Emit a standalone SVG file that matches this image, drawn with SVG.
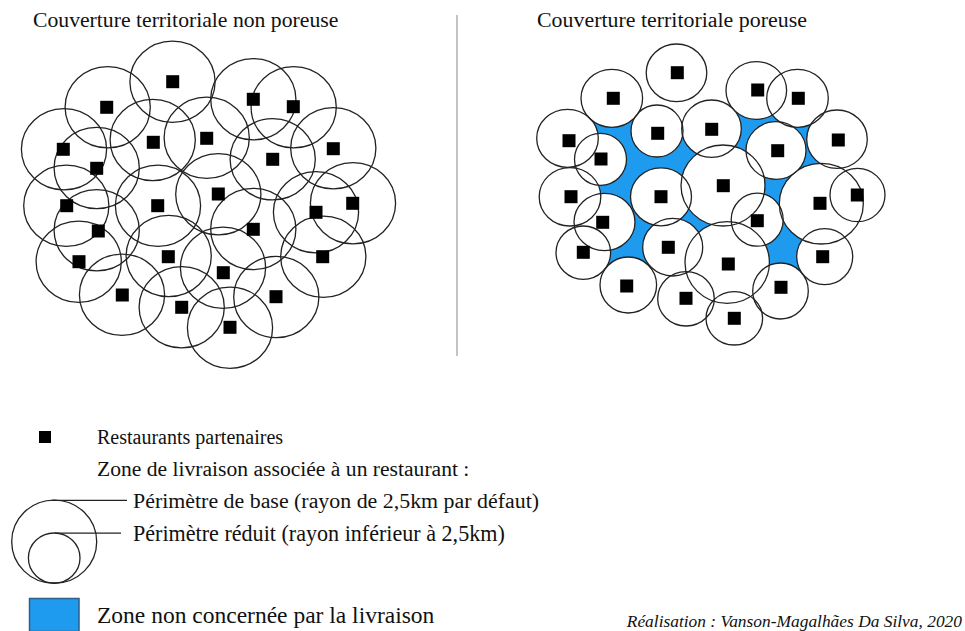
<svg xmlns="http://www.w3.org/2000/svg" width="965" height="631" viewBox="0 0 965 631">
<style>
.t{font-family:"Liberation Serif","Times New Roman",serif;fill:#111}
.z{fill:none;stroke:#222;stroke-width:1.3}
.w{fill:#fff;stroke:none}
.r{fill:#000}
</style>
<defs>
<ellipse id="L" rx="42.6" ry="40.6" class="z"/>
<rect id="s" x="-6.5" y="-6.5" width="13" height="13"/>
</defs>
<rect width="965" height="631" fill="#fff"/>
<text class="t" x="33" y="27" font-size="21.7">Couverture territoriale non poreuse</text>
<text class="t" x="537" y="27" font-size="21.9">Couverture territoriale poreuse</text>
<line x1="457" y1="15" x2="457" y2="356" stroke="#888" stroke-width="1"/>
<g id="left-circles">
<use href="#L" x="172.5" y="81.7"/><use href="#L" x="107.7" y="107.3"/><use href="#L" x="253.3" y="99.3"/><use href="#L" x="293.7" y="107.3"/><use href="#L" x="64" y="149.3"/><use href="#L" x="152.7" y="140"/><use href="#L" x="206.7" y="137.7"/><use href="#L" x="272.7" y="159.3"/><use href="#L" x="333.3" y="148.3"/><use href="#L" x="96.7" y="168"/><use href="#L" x="66.3" y="205.7"/><use href="#L" x="158" y="205.7"/><use href="#L" x="218.3" y="194.3"/><use href="#L" x="316" y="212.3"/><use href="#L" x="353" y="203.3"/><use href="#L" x="96.7" y="230.3"/><use href="#L" x="253.3" y="229"/><use href="#L" x="78.7" y="261.7"/><use href="#L" x="168.7" y="256"/><use href="#L" x="223" y="267.7"/><use href="#L" x="323.3" y="256.7"/><use href="#L" x="122" y="294.7"/><use href="#L" x="181.7" y="307.3"/><use href="#L" x="276.3" y="297"/><use href="#L" x="230" y="327.7"/>
</g>
<g id="left-restaurants" class="r">
<use href="#s" x="172.7" y="81.7"/><use href="#s" x="106.7" y="107.3"/><use href="#s" x="253.3" y="99.3"/><use href="#s" x="293.3" y="106.7"/><use href="#s" x="63.3" y="149.3"/><use href="#s" x="153.3" y="142.3"/><use href="#s" x="206.7" y="138.3"/><use href="#s" x="272.7" y="159.3"/><use href="#s" x="333.3" y="148.7"/><use href="#s" x="96.7" y="168.3"/><use href="#s" x="66.7" y="205.7"/><use href="#s" x="157.7" y="205.7"/><use href="#s" x="218.3" y="194"/><use href="#s" x="316" y="212.3"/><use href="#s" x="352.7" y="203.3"/><use href="#s" x="98.3" y="231"/><use href="#s" x="253.3" y="229.3"/><use href="#s" x="79" y="261.7"/><use href="#s" x="168.3" y="256.7"/><use href="#s" x="223.3" y="272.7"/><use href="#s" x="322.7" y="256.7"/><use href="#s" x="122.3" y="295"/><use href="#s" x="181.7" y="307.3"/><use href="#s" x="276" y="296.7"/><use href="#s" x="230" y="327.3"/>
</g>
<g id="right-gaps">
<polygon fill="#1e9bef" points="567.5,138.3 611.8,98.3 657,131 711.5,128.7 756.3,90.5 797.5,98.3 837,139.2 821.3,203.7 824.7,256.7 780.5,291 727.2,262.5 686,298.8 672.7,247.2 628.3,285 583.3,252.7 570,196.8"/>
</g>
<g id="right-circles">
<g class="w">
<ellipse cx="676.5" cy="72.8" rx="30.3" ry="28.8"/><ellipse cx="611.8" cy="98.3" rx="30.8" ry="29"/><ellipse cx="756.3" cy="90.5" rx="30.3" ry="28.8"/><ellipse cx="797.5" cy="98.3" rx="30.8" ry="29"/><ellipse cx="567.5" cy="138.3" rx="30.8" ry="29"/><ellipse cx="657" cy="131" rx="26" ry="26"/><ellipse cx="711.5" cy="128.7" rx="29.8" ry="28.7"/><ellipse cx="776" cy="150.5" rx="30" ry="28.8"/><ellipse cx="837" cy="139.2" rx="30.3" ry="29.2"/><ellipse cx="600.5" cy="159.3" rx="26" ry="26"/><ellipse cx="570" cy="196.8" rx="30.8" ry="29.2"/><ellipse cx="661" cy="196.8" rx="30.5" ry="29"/><ellipse cx="723" cy="185.5" rx="42" ry="40.5"/><ellipse cx="604.5" cy="222" rx="30.5" ry="28.7"/><ellipse cx="583.3" cy="252.7" rx="27.3" ry="26.7"/><ellipse cx="672.7" cy="247.2" rx="30" ry="28.8"/><ellipse cx="727.2" cy="262.5" rx="42.2" ry="40.8"/><ellipse cx="628.3" cy="285" rx="28.3" ry="28"/><ellipse cx="686" cy="298.8" rx="28.3" ry="27.2"/><ellipse cx="734.3" cy="318.3" rx="28.3" ry="26.7"/><ellipse cx="757.2" cy="219.7" rx="26" ry="26.5"/><ellipse cx="780.5" cy="291" rx="27.8" ry="28"/><ellipse cx="824.7" cy="256.7" rx="28" ry="28"/><ellipse cx="821.3" cy="203.7" rx="42" ry="40.3"/><ellipse cx="857.5" cy="195" rx="27.5" ry="26.7"/>
</g>
<g class="z">
<ellipse cx="676.5" cy="72.8" rx="30.3" ry="28.8"/><ellipse cx="611.8" cy="98.3" rx="30.8" ry="29"/><ellipse cx="756.3" cy="90.5" rx="30.3" ry="28.8"/><ellipse cx="797.5" cy="98.3" rx="30.8" ry="29"/><ellipse cx="567.5" cy="138.3" rx="30.8" ry="29"/><ellipse cx="657" cy="131" rx="26" ry="26"/><ellipse cx="711.5" cy="128.7" rx="29.8" ry="28.7"/><ellipse cx="776" cy="150.5" rx="30" ry="28.8"/><ellipse cx="837" cy="139.2" rx="30.3" ry="29.2"/><ellipse cx="600.5" cy="159.3" rx="26" ry="26"/><ellipse cx="570" cy="196.8" rx="30.8" ry="29.2"/><ellipse cx="661" cy="196.8" rx="30.5" ry="29"/><ellipse cx="723" cy="185.5" rx="42" ry="40.5"/><ellipse cx="604.5" cy="222" rx="30.5" ry="28.7"/><ellipse cx="583.3" cy="252.7" rx="27.3" ry="26.7"/><ellipse cx="672.7" cy="247.2" rx="30" ry="28.8"/><ellipse cx="727.2" cy="262.5" rx="42.2" ry="40.8"/><ellipse cx="628.3" cy="285" rx="28.3" ry="28"/><ellipse cx="686" cy="298.8" rx="28.3" ry="27.2"/><ellipse cx="734.3" cy="318.3" rx="28.3" ry="26.7"/><ellipse cx="757.2" cy="219.7" rx="26" ry="26.5"/><ellipse cx="780.5" cy="291" rx="27.8" ry="28"/><ellipse cx="824.7" cy="256.7" rx="28" ry="28"/><ellipse cx="821.3" cy="203.7" rx="42" ry="40.3"/><ellipse cx="857.5" cy="195" rx="27.5" ry="26.7"/>
</g>
</g>
<g id="right-restaurants" class="r">
<use href="#s" x="677.3" y="72.7"/><use href="#s" x="613.3" y="98.3"/><use href="#s" x="757.7" y="90"/><use href="#s" x="798.3" y="98.3"/><use href="#s" x="569" y="140.7"/><use href="#s" x="657.7" y="133.3"/><use href="#s" x="711.7" y="129.3"/><use href="#s" x="777.7" y="150.7"/><use href="#s" x="838.3" y="140"/><use href="#s" x="601" y="159"/><use href="#s" x="571" y="196.7"/><use href="#s" x="661" y="196.7"/><use href="#s" x="723.3" y="185.7"/><use href="#s" x="857.3" y="195"/><use href="#s" x="602.7" y="222.3"/><use href="#s" x="820" y="203.3"/><use href="#s" x="583.3" y="252.3"/><use href="#s" x="668.3" y="247.3"/><use href="#s" x="728.3" y="264"/><use href="#s" x="757.3" y="220.7"/><use href="#s" x="822.7" y="256.7"/><use href="#s" x="626.7" y="286"/><use href="#s" x="686" y="298.3"/><use href="#s" x="781" y="287.3"/><use href="#s" x="734.3" y="318.3"/>
</g>
<g id="legend">
<rect x="39" y="431" width="12" height="12" fill="#000"/>
<text class="t" x="97" y="444" font-size="20">Restaurants partenaires</text>
<text class="t" x="97" y="476" font-size="21.6">Zone de livraison associée à un restaurant :</text>
<ellipse cx="54.2" cy="541.7" rx="42.5" ry="41.6" class="z"/>
<ellipse cx="54.2" cy="558" rx="25.8" ry="25" class="z"/>
<line x1="52" y1="500.3" x2="127" y2="500.3" stroke="#222" stroke-width="1.2"/>
<line x1="55" y1="533.2" x2="121" y2="533.2" stroke="#222" stroke-width="1.2"/>
<text class="t" x="133" y="508" font-size="21.9">Périmètre de base (rayon de 2,5km par défaut)</text>
<text class="t" x="133" y="541" font-size="22.1">Périmètre réduit (rayon inférieur à 2,5km)</text>
<rect x="29.5" y="598.5" width="49.5" height="33" fill="#1e9bef" stroke="#2d5f88" stroke-width="1.5"/>
<text class="t" x="97" y="623" font-size="23.5">Zone non concernée par la livraison</text>
<text class="t" x="962" y="627" font-size="17.4" font-style="italic" text-anchor="end">Réalisation : Vanson-Magalhães Da Silva, 2020</text>
</g>
</svg>
